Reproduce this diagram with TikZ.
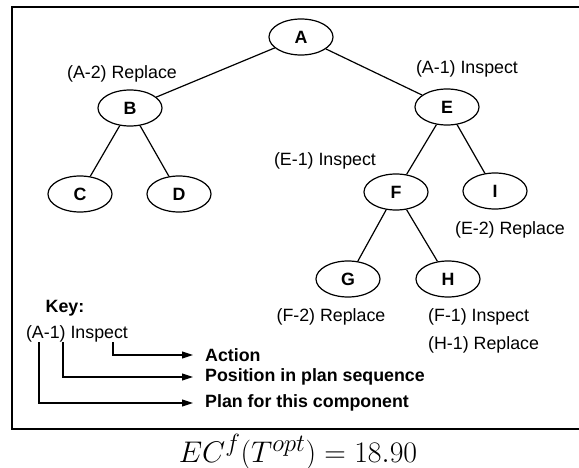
\documentclass[tikz,border=0pt]{standalone}
\usepackage{fontspec}
\newfontfamily\arialfont{Liberation Sans}
\usetikzlibrary{shapes.geometric,arrows.meta}

\begin{document}
\begin{tikzpicture}[x=1pt,y=-1pt,
	comp/.style={ellipse, draw, line width=1.2pt, minimum width=64pt, minimum height=36pt, inner sep=0pt, font=\arialfont\fontsize{17.8}{20}\selectfont\bfseries},
	plan/.style={inner sep=0pt, font=\arialfont\fontsize{17.8}{20}\selectfont},
	keylabel/.style={anchor=west, inner xsep=12pt, inner ysep=0pt, font=\arialfont\fontsize{17.8}{20}\selectfont\bfseries},
	keyarrow/.style={line width=1.1pt, -{Triangle[length=11pt,width=7pt]}}]
						\useasboundingbox (0,0) rectangle (579,468);
						\draw[line width=2.5pt] (12,7) rectangle (600,429);
						% components
						\node[comp] (A) at (301,37) {A};
						\node[comp] (B) at (130,108) {B};
						\node[comp] (C) at (80,194) {C};
						\node[comp] (D) at (179,194) {D};
						\node[comp] (E) at (447,107) {E};
						\node[comp] (F) at (396,192) {F};
						\node[comp] (I) at (495,191) {I};
						\node[comp] (G) at (348,279) {G};
						\node[comp] (H) at (448,279) {H};
						\draw[line width=1.2pt] (A) -- (B);
						\draw[line width=1.2pt] (A) -- (E);
						\draw[line width=1.2pt] (B) -- (C);
						\draw[line width=1.2pt] (B) -- (D);
						\draw[line width=1.2pt] (E) -- (F);
						\draw[line width=1.2pt] (E) -- (I);
						\draw[line width=1.2pt] (F) -- (G);
						\draw[line width=1.2pt] (F) -- (H);
						% plans
						\node[plan] (pA2) at (122,74) {(A-2) Replace};
						\node[plan] (pA1) at (467,69) {(A-1) Inspect};
						\node[plan] (pE1) at (325,161) {(E-1) Inspect};
						\node[plan] (pE2) at (510,230) {(E-2) Replace};
						\node[plan] (pF2) at (331,317) {(F-2) Replace};
						\node[plan, anchor=west] (pF1) at (428,317) {(F-1) Inspect};
						\node[plan, anchor=west] (pH1) at (428,345) {(H-1) Replace};
						% key
						\node[plan, font=\arialfont\fontsize{17.8}{20}\selectfont\bfseries] (key) at (65,308) {Key:};
						\node[plan] (keyex) at (77,334) {(A-1) Inspect};
						\coordinate (kact) at (113,342);
						\coordinate (kpos) at (63,342);
						\coordinate (kplan) at (39,342);
						\node[keylabel] (action) at (193,355) {Action};
						\node[keylabel] (position) at (193,377) {Position in plan sequence};
						\node[keylabel] (plancomp) at (193,403) {Plan for this component};
						\draw[keyarrow] (kact) |- (action.west);
						\draw[keyarrow] (kpos) |- (position.west);
						\draw[keyarrow] (kplan) |- (plancomp.west);
						\node[anchor=base, inner sep=0pt, scale=1.2, font=\fontsize{24.88}{28}\selectfont] (cost) at (298,462) {$EC^f(T^{opt}) = 18.90$};
					\end{tikzpicture}
\end{document}
